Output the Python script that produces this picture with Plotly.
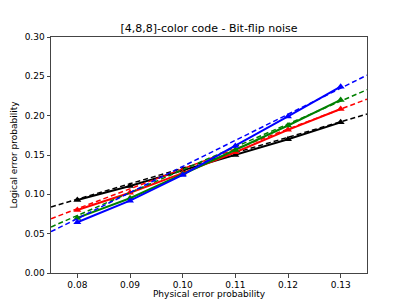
import plotly.graph_objects as go

p = [0.08, 0.09, 0.10, 0.11, 0.12, 0.13]
black = [0.0928, 0.1106, 0.1305, 0.1500, 0.1700, 0.1915]
red = [0.0800, 0.1020, 0.1270, 0.1535, 0.1820, 0.2085]
green = [0.0700, 0.0950, 0.1255, 0.1565, 0.1875, 0.2200]
blue = [0.0645, 0.0920, 0.1246, 0.1614, 0.1990, 0.2368]

fit_x = [0.075, 0.135]
fit_black = [0.0840, 0.2020]
fit_red = [0.0690, 0.2210]
fit_green = [0.0585, 0.2330]
fit_blue = [0.0525, 0.2515]

colors = ["black", "red", "green", "blue"]
series = [black, red, green, blue]
fits = [fit_black, fit_red, fit_green, fit_blue]

fig = go.Figure()
for c, s, f in zip(colors, series, fits):
    fig.add_trace(go.Scatter(x=fit_x, y=f, mode="lines",
                             line=dict(color=c, width=1.5, dash="5px,3px"),
                             showlegend=False, hoverinfo="skip"))
    fig.add_trace(go.Scatter(x=p, y=s, mode="lines+markers",
                             line=dict(color=c, width=2),
                             marker=dict(symbol="triangle-up", size=7, color=c),
                             showlegend=False))

axis_common = dict(showgrid=False, zeroline=False, showline=True, mirror=True,
                   linecolor="#444", linewidth=1, ticks="outside", ticklen=3.5,
                   tickcolor="#444", automargin=False,
                   tickfont=dict(size=9, color="black", family="DejaVu Sans"))
# the page body adds an 8px margin, so the figure is sized to fit inside it
W, H = 393, 291
fig.update_layout(
    width=W, height=H,
    margin=dict(l=43, r=34, t=29, b=26),
    paper_bgcolor="white", plot_bgcolor="white",
    title=dict(text="[4,8,8]-color code - Bit-flip noise", x=0.5, xanchor="center",
               xref="paper",
               y=1 - 20 / H, yanchor="middle",
               font=dict(size=11, color="black", family="DejaVu Sans")),
    font=dict(family="DejaVu Sans", color="black"),
    xaxis=dict(range=[0.075, 0.135], tickvals=p,
               ticktext=[f"{v:.2f}" for v in p],
               title=dict(text="Physical error probability", font=dict(size=9), standoff=3),
               **axis_common),
    yaxis=dict(range=[0, 0.30], tickvals=[0, 0.05, 0.10, 0.15, 0.20, 0.25, 0.30],
               ticktext=["0.00", "0.05", "0.10", "0.15", "0.20", "0.25", "0.30"],
               title=dict(text="Logical error probability", font=dict(size=9), standoff=5),
               **axis_common),
)
fig.write_html("out.html")
